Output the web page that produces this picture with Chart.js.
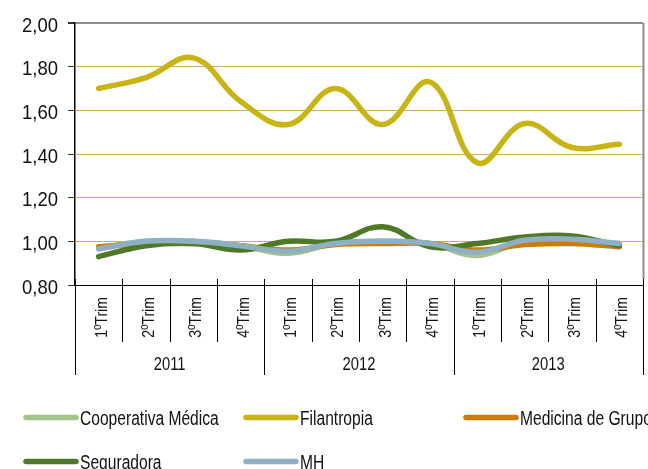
<!DOCTYPE html>
<html>
<head>
<meta charset="utf-8">
<script src="https://cdn.jsdelivr.net/npm/chart.js@4.4.1/dist/chart.umd.min.js"></script>
<style>
  html, body { margin: 0; padding: 0; background: #fff; }
  #wrap { position: relative; width: 648px; height: 469px; overflow: hidden; }
  #c { position: absolute; left: 0; top: 0; }
</style>
</head>
<body>
<div id="wrap">
  <canvas id="c" width="648" height="469"></canvas>
</div>
<script>
// ---- data ----
const quarters = ["1ºTrim","2ºTrim","3ºTrim","4ºTrim","1ºTrim","2ºTrim","3ºTrim","4ºTrim","1ºTrim","2ºTrim","3ºTrim","4ºTrim"];
const years = ["2011","2012","2013"];
const yTicks = [0.8, 1.0, 1.2, 1.4, 1.6, 1.8, 2.0];
const seriesNames = ["Cooperativa Médica","Filantropia","Medicina de Grupo","Seguradora","MH"];
const cooperativaMedica = [0.97, 1.00, 1.00, 0.98, 0.945, 0.99, 1.00, 0.99, 0.935, 1.00, 1.00, 0.99];
const filantropia      = [1.70, 1.75, 1.84, 1.64, 1.535, 1.70, 1.535, 1.73, 1.36, 1.54, 1.43, 1.445];
const medicinaDeGrupo  = [0.975, 0.99, 0.99, 0.98, 0.96, 0.985, 0.99, 0.99, 0.96, 0.985, 0.99, 0.975];
const seguradora       = [0.93, 0.98, 0.99, 0.96, 1.00, 1.00, 1.067, 0.975, 0.99, 1.02, 1.025, 0.98];
const mh               = [0.965, 1.00, 1.00, 0.98, 0.955, 0.99, 1.00, 0.99, 0.95, 1.005, 1.01, 0.99];

const colors = ["#A3C389", "#C9B416", "#CC7A00", "#4E7A27", "#8FB0C4"];
const drawOrder = [4, 3, 2, 1, 0]; // lower = drawn on top (MH on top)
const seriesData = [cooperativaMedica, filantropia, medicinaDeGrupo, seguradora, mh];

const FONT = '"Liberation Sans", Arial, Helvetica, sans-serif';
const TEXT = '#111';

function txt(ctx, s, x, y, opt) {
  ctx.save();
  ctx.translate(x, y);
  if (opt.rot) ctx.rotate(opt.rot);
  ctx.scale(opt.sx, 1);
  ctx.font = opt.size + 'px ' + FONT;
  ctx.fillStyle = TEXT;
  ctx.textAlign = opt.align || 'left';
  ctx.textBaseline = 'alphabetic';
  ctx.fillText(s, 0, 0);
  ctx.restore();
}

const customPlugin = {
  id: 'customAxes',
  afterDraw(chart) {
    const ctx = chart.ctx;
    const a = chart.chartArea;
    const n = quarters.length;
    const w = (a.right - a.left) / n;
    const ys = chart.scales.y;
    ctx.save();
    // right border
    ctx.strokeStyle = '#8c8c8c';
    ctx.lineWidth = 2;
    ctx.beginPath();
    ctx.moveTo(a.right + 0.5, a.top);
    ctx.lineTo(a.right + 0.5, a.bottom - 6);
    ctx.stroke();
    // category / group separators
    ctx.strokeStyle = '#000';
    ctx.lineWidth = 1;
    for (let i = 0; i <= n; i++) {
      const x = Math.round(a.left + i * w) + 0.5;
      const yEnd = (i % 4 === 0) ? a.bottom + 90 : a.bottom + 57;
      ctx.beginPath();
      ctx.moveTo(x, a.bottom - 6);
      ctx.lineTo(x, yEnd);
      ctx.stroke();
    }
    ctx.restore();
    // y tick labels
    yTicks.forEach(v => {
      const py = ys.getPixelForValue(v);
      txt(ctx, v.toFixed(2).replace('.', ','), a.left - 17, py + 8.5, { size: 21, sx: 0.88, align: 'right' });
    });
    // quarter labels (rotated)
    quarters.forEach((q, i) => {
      const cx = chart.scales.x.getPixelForValue(i);
      txt(ctx, q, cx + 8, a.bottom + 12, { size: 17, sx: 0.83, align: 'right', rot: -Math.PI / 2 });
    });
    // year labels
    years.forEach((y, k) => {
      const cx = a.left + (k * 4 + 2) * w;
      txt(ctx, y, cx, a.bottom + 85, { size: 18.5, sx: 0.8, align: 'center' });
    });
    // legend
    const legendCols = [24, 244, 464, 24, 244];
    const legendRows = [417.5, 417.5, 417.5, 461.5, 461.5];
    seriesNames.forEach((name, i) => {
      const x = legendCols[i], y = legendRows[i];
      ctx.save();
      ctx.strokeStyle = colors[i];
      ctx.lineWidth = 5.5;
      ctx.lineCap = 'round';
      ctx.beginPath();
      ctx.moveTo(x + 2, y);
      ctx.lineTo(x + 52, y);
      ctx.stroke();
      ctx.restore();
      txt(ctx, name, x + 56, y + 7, { size: 20, sx: 0.78, align: 'left' });
    });
  }
};

const chart = new Chart(document.getElementById('c'), {
  type: 'line',
  data: {
    labels: quarters,
    datasets: seriesNames.map((name, i) => ({
      label: name,
      data: seriesData[i],
      borderColor: colors[i],
      backgroundColor: colors[i],
      borderWidth: 5.5,
      pointRadius: 0,
      tension: 0.4,
      borderCapStyle: 'round',
      borderJoinStyle: 'round',
      order: drawOrder[i],
      fill: false
    }))
  },
  options: {
    responsive: false,
    animation: false,
    layout: { padding: { top: 23, right: 5, left: 0, bottom: 79 } },
    plugins: { legend: { display: false }, tooltip: { enabled: false } },
    scales: {
      x: {
        offset: true,
        grid: { display: false, drawTicks: false },
        border: { display: true, color: '#000', width: 1 },
        ticks: { display: false, autoSkip: false },
        afterFit(scale) { scale.height = 105; }
      },
      y: {
        min: 0.8, max: 2.0,
        afterBuildTicks(scale) { scale.ticks = yTicks.map(v => ({ value: v })); },
        grid: {
          color: (c) => {
            const v = c.tick ? c.tick.value : 0;
            if (Math.abs(v - 2) < 1e-6) return '#8c8c8c';
            if (Math.abs(v - 0.8) < 1e-6) return '#000';
            return '#E2AA55';
          },
          lineWidth: (c) => (c.tick && Math.abs(c.tick.value - 2) < 1e-6) ? 2 : 1,
          tickColor: '#333',
          tickLength: 7
        },
        border: { display: true, color: '#000', width: 1.5 },
        ticks: { display: false },
        afterFit(scale) { scale.width = 75; }
      }
    }
  },
  plugins: [customPlugin]
});
</script>
</body>
</html>
